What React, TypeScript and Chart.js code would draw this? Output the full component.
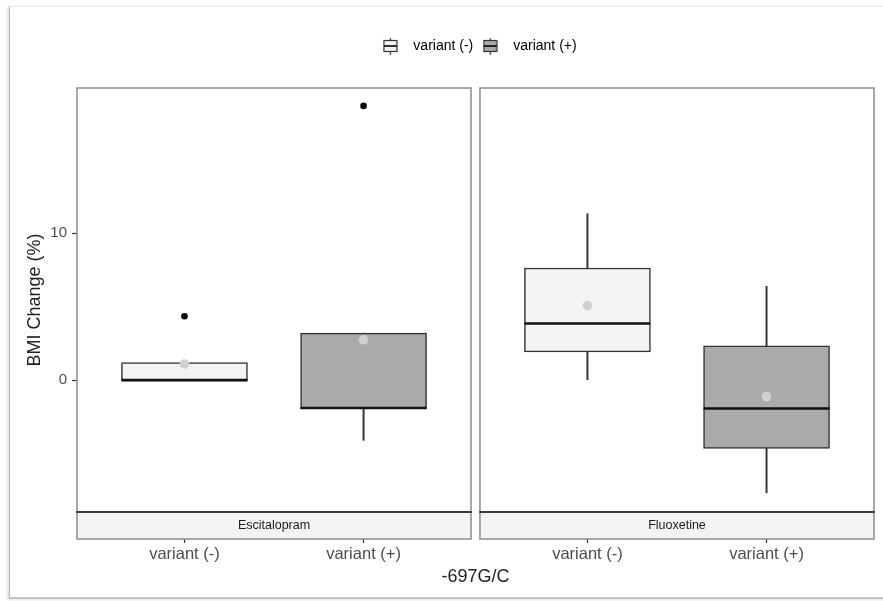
import React, { useEffect, useRef } from "react";
import { Chart, registerables } from "chart.js";

Chart.register(...registerables);

// ---------------- data ----------------
const panelNames = ["Escitalopram", "Fluoxetine"];
const groupNames = ["variant (-)", "variant (+)"];
// order of boxes: Escitalopram (-), Escitalopram (+), Fluoxetine (-), Fluoxetine (+)
const whiskerLow = [0, -4.1, 0, -7.67];
const boxLow = [-0.05, -1.95, 1.93, -4.65];
const medians = [0, -1.9, 3.86, -1.93];
const boxHigh = [1.2, 3.2, 7.64, 2.34];
const whiskerHigh = [1.2, 3.2, 11.34, 6.39];
const means = [1.1, 2.75, 5.08, -1.13];
const outliers = [[4.35], [18.68], [], []];
const yTickValues = [0, 10];
const yTitle = "BMI Change (%)";
const xTitle = "-697G/C";
const yMin = -8.98;
const yMax = 19.9;

// ---------------- layout / style ----------------
const W = 883;
const H = 601;
const PANEL_SPAN = 2.2; // discrete axis range 0.4 .. 2.6
const PANEL_GAP = 0.05;
const X_MIN = 0.4;
const X_MAX = X_MIN + panelNames.length * PANEL_SPAN + (panelNames.length - 1) * PANEL_GAP;
const groupFill = ["#f4f4f4", "#aaaaaa"];
const FONT = '"Liberation Sans", Arial, Helvetica, sans-serif';
const STRIP_H = 27;
const LEGEND_FONT = 14;
const LEGEND_PAD = 1;
const LEGEND_TOP = 38;
const LEGEND_EXTRA = 88 - LEGEND_TOP - (LEGEND_FONT + LEGEND_PAD + 10);

const xOf = (i: number) =>
  Math.floor(i / groupNames.length) * (PANEL_SPAN + PANEL_GAP) + (i % groupNames.length) + 1;
const xTickValues = boxLow.map((_, i) => xOf(i));
const xTickLabels = boxLow.map((_, i) => groupNames[i % groupNames.length]);

function makeGlyph(fill: string) {
  const c = document.createElement("canvas");
  c.width = 15;
  c.height = 18;
  const g = c.getContext("2d")!;
  g.strokeStyle = "#333";
  g.lineWidth = 1.2;
  g.beginPath();
  g.moveTo(7.5, 0);
  g.lineTo(7.5, 18);
  g.stroke();
  g.fillStyle = fill;
  g.fillRect(1, 3.5, 13, 11);
  g.strokeRect(1, 3.5, 13, 11);
  g.strokeStyle = "#000";
  g.lineWidth = 1.6;
  g.beginPath();
  g.moveTo(1, 9);
  g.lineTo(14, 9);
  g.stroke();
  return c;
}

const legendSpacer = {
  id: "legendSpacer",
  beforeInit(chart: any) {
    const legend = chart.legend;
    if (!legend) return;
    const orig = legend.fit;
    legend.fit = function () {
      orig.call(this);
      this.height += LEGEND_EXTRA;
    };
  },
};

const facetPlugin = {
  id: "facets",
  afterDraw(chart: any) {
    const { ctx, chartArea, scales } = chart;
    const xs = scales.x;
    const top = chartArea.top;
    const bottom = chartArea.bottom;
    ctx.save();
    panelNames.forEach((name, p) => {
      const start = X_MIN + p * (PANEL_SPAN + PANEL_GAP);
      const l = xs.getPixelForValue(start);
      const r = xs.getPixelForValue(start + PANEL_SPAN);
      // strip
      ctx.fillStyle = "#f3f3f3";
      ctx.fillRect(l, bottom, r - l, STRIP_H);
      // outer border of panel + strip
      ctx.strokeStyle = "#8c8c8c";
      ctx.lineWidth = 1.5;
      ctx.strokeRect(l, top, r - l, bottom + STRIP_H - top);
      // strip top line
      ctx.strokeStyle = "#3a3a3a";
      ctx.lineWidth = 2;
      ctx.beginPath();
      ctx.moveTo(l - 0.75, bottom);
      ctx.lineTo(r + 0.75, bottom);
      ctx.stroke();
      // strip text
      ctx.fillStyle = "#1a1a1a";
      ctx.font = `12.5px ${FONT}`;
      ctx.textAlign = "center";
      ctx.textBaseline = "middle";
      ctx.fillText(name, (l + r) / 2, bottom + STRIP_H / 2 + 0.5);
    });
    ctx.restore();
  },
};

export default function App() {
  const ref = useRef<HTMLCanvasElement | null>(null);

  useEffect(() => {
    if (!ref.current) return;
    const glyphs = groupFill.map((f) => makeGlyph(f));
    const idx = boxLow.map((_, i) => i);

    const chart = new Chart(ref.current, {
      type: "bar",
      data: {
        datasets: [
          {
            type: "scatter",
            label: "outliers",
            order: 0,
            data: outliers.flatMap((arr, i) => arr.map((v) => ({ x: xOf(i), y: v }))),
            pointRadius: 3.3,
            pointBackgroundColor: "#000",
            pointBorderWidth: 0,
          },
          {
            type: "scatter",
            label: "means",
            order: 1,
            data: means.map((v, i) => ({ x: xOf(i), y: v })),
            pointRadius: 4.8,
            pointBackgroundColor: "#d0d0d0",
            pointBorderWidth: 0,
          },
          {
            type: "scatter",
            label: "medians",
            order: 2,
            data: medians.map((v, i) => ({ x: xOf(i), y: v })),
            pointStyle: "line",
            pointRadius: 63,
            pointBorderColor: "#111",
            pointBorderWidth: 2.6,
          },
          {
            type: "bar",
            label: "boxes",
            order: 3,
            data: boxLow.map((v, i) => ({ x: xOf(i), y: [v, boxHigh[i]] })),
            backgroundColor: idx.map((i) => groupFill[i % groupNames.length]),
            borderColor: "#333",
            borderWidth: 1.5,
            borderSkipped: false,
            barThickness: 126,
            grouped: false,
          },
          {
            type: "bar",
            label: "whiskers",
            order: 4,
            data: whiskerLow.map((v, i) => ({ x: xOf(i), y: [v, whiskerHigh[i]] })),
            backgroundColor: "#333",
            borderWidth: 0,
            barThickness: 1.3,
            grouped: false,
          },
        ] as any,
      },
      options: {
        responsive: false,
        animation: false,
        events: [],
        layout: {
          autoPadding: false,
          padding: { left: 0, top: LEGEND_TOP, right: W - 874, bottom: 0 },
        },
        font: { family: FONT },
        scales: {
          x: {
            type: "linear",
            min: X_MIN,
            max: X_MAX,
            offset: false,
            afterBuildTicks: (s: any) => {
              s.ticks = xTickValues.map((v) => ({ value: v }));
            },
            afterFit: (s: any) => {
              s.height = H - 512;
            },
            ticks: {
              autoSkip: false,
              maxRotation: 0,
              padding: 2,
              color: "#4d4d4d",
              font: { family: FONT, size: 16.5 },
              callback: (_v: any, i: number) => xTickLabels[i],
            },
            grid: {
              display: true,
              offset: false,
              drawOnChartArea: false,
              drawTicks: true,
              tickLength: 31,
              tickColor: "#333",
              tickWidth: 1.2,
            },
            border: { display: false },
            title: {
              display: true,
              text: xTitle,
              color: "#222",
              font: { family: FONT, size: 18 },
              padding: { top: 0, bottom: 13 },
            },
          },
          y: {
            type: "linear",
            min: yMin,
            max: yMax,
            afterBuildTicks: (s: any) => {
              s.ticks = yTickValues.map((v) => ({ value: v }));
            },
            afterFit: (s: any) => {
              s.width = 77;
            },
            ticks: {
              padding: 5,
              color: "#4d4d4d",
              font: { family: FONT, size: 15 },
            },
            grid: {
              display: true,
              offset: false,
              drawOnChartArea: false,
              drawTicks: true,
              tickLength: 5,
              tickColor: "#333",
              tickWidth: 1.2,
            },
            border: { display: false },
            title: {
              display: true,
              text: yTitle,
              color: "#222",
              font: { family: FONT, size: 18 },
              padding: { top: 24, bottom: 0 },
            },
          },
        },
        plugins: {
          tooltip: { enabled: false },
          title: { display: false },
          legend: {
            display: true,
            position: "top",
            fullSize: false,
            align: "center",
            labels: {
              usePointStyle: true,
              pointStyleWidth: 32,
              padding: LEGEND_PAD,
              color: "#111",
              font: { family: FONT, size: LEGEND_FONT },
              generateLabels: () =>
                groupNames.map((t, g) => ({
                  text: t,
                  pointStyle: glyphs[g],
                  fillStyle: groupFill[g],
                  strokeStyle: "#333",
                  lineWidth: 0,
                  hidden: false,
                  datasetIndex: 3,
                })) as any,
            },
          },
        },
      } as any,
      plugins: [legendSpacer, facetPlugin],
    });
    return () => chart.destroy();
  }, []);

  return (
    <div
      style={{
        position: "fixed",
        left: 0,
        top: 0,
        width: W,
        height: H,
        background: "#fff",
        overflow: "hidden",
      }}
    >
      <div
        style={{
          position: "absolute",
          left: 9,
          top: 6,
          width: 1000,
          height: 590,
          borderLeft: "1.5px solid #b8b8b8",
          borderTop: "1px solid #ececec",
          borderBottom: "2px solid #c6c6c6",
          boxShadow: "-2px 1px 3px rgba(0,0,0,0.12)",
          background: "#fff",
        }}
      />
      <canvas
        ref={ref}
        width={W}
        height={H}
        style={{ position: "absolute", left: 0, top: 0, width: W, height: H }}
      />
    </div>
  );
}
